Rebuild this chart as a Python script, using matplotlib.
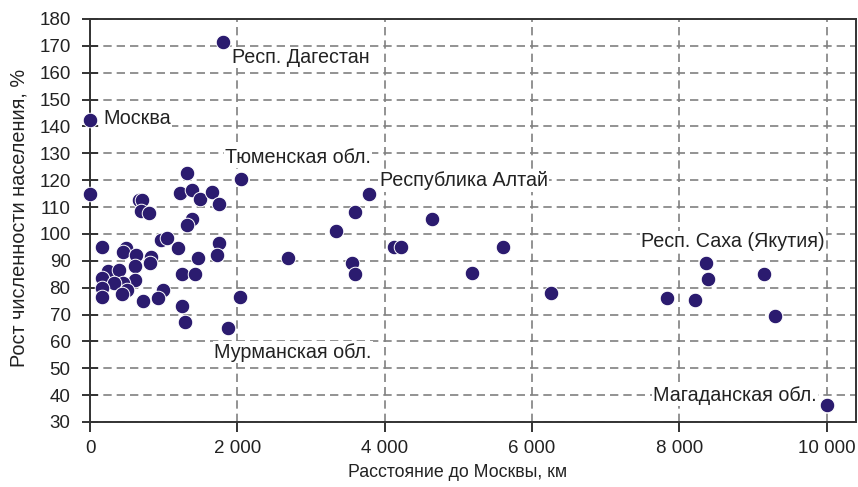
import matplotlib
matplotlib.use("Agg")
import matplotlib.pyplot as plt

plt.rcParams["font.family"] = ["Liberation Sans", "DejaVu Sans"]

# distance to Moscow (km) and population growth (%)
dist_km = [
    0, 1810, 2050, 3790, 1870, 8360, 10000,
    0, 1320, 1220, 1390, 1490, 1650, 1755, 660, 700, 690, 800,
    1380, 1320, 1750, 1730, 1470, 1244, 1430, 1244, 1290, 2040,
    965, 1050, 1195, 160, 490, 450, 630, 823, 815, 611, 240, 398,
    159, 611, 452, 330, 159, 498, 995, 159, 430, 723, 927,
    2690, 3342, 3596, 4134, 4229, 4645, 3555, 3596,
    5613, 5183, 6264, 8394, 9149, 7833, 8218, 9303,
]
growth = [
    142.5, 171.5, 120.5, 115.0, 65.0, 89.0, 36.5,
    115.0, 122.8, 115.3, 116.2, 112.9, 115.5, 111.0, 112.8, 112.5, 108.5, 107.7,
    105.7, 103.2, 96.5, 92.2, 90.9, 85.2, 85.0, 73.2, 67.1, 76.5,
    97.6, 98.6, 94.6, 95.3, 94.6, 93.4, 92.3, 91.5, 89.2, 88.2, 86.2, 86.4,
    83.5, 83.0, 81.7, 81.8, 79.8, 79.1, 79.2, 76.7, 77.7, 75.1, 76.0,
    91.2, 101.0, 108.0, 95.3, 95.3, 105.7, 89.0, 85.0,
    95.3, 85.5, 78.0, 83.4, 85.2, 76.2, 75.5, 69.5,
]

# labelled regions: text, x, y, horizontal alignment
labels = ["Москва", "Респ. Дагестан", "Тюменская обл.", "Республика Алтай",
          "Мурманская обл.", "Респ. Саха (Якутия)", "Магаданская обл."]
label_x = [180, 1927, 1832, 3935, 1682, 7486, 9864]
label_y = [143.0, 165.7, 128.5, 119.7, 56.0, 97.0, 40.0]
label_ha = ["left", "left", "left", "left", "left", "left", "right"]

xticks = [0, 2000, 4000, 6000, 8000, 10000]
yticks = list(range(30, 181, 10))

fig = plt.figure(figsize=(8.58, 4.87), dpi=100)
ax = fig.add_axes([0.1049, 0.1335, 0.8928, 0.8275])

ax.scatter(dist_km, growth, s=110, color="#2b1b6f", edgecolors="white",
           linewidths=0.7, zorder=4, clip_on=False)

for t, x, y, ha in zip(labels, label_x, label_y, label_ha):
    ax.text(x, y, t, ha=ha, va="center", fontsize=14.2, color="#222222", zorder=3,
            bbox=dict(facecolor="white", edgecolor="none", pad=1))

ax.set_xlim(0, 10400)
ax.set_ylim(30, 180)
ax.set_xticks(xticks)
ax.set_xticklabels([f"{v:,}".replace(",", " ") for v in xticks])
ax.set_yticks(yticks)

ax.grid(True, color="#808080", linestyle=(0, (5, 3)), linewidth=1.2, zorder=1)
ax.set_axisbelow(True)

for s in ax.spines.values():
    s.set_color("#333333")
    s.set_linewidth(1.4)

ax.tick_params(axis="y", direction="inout", length=12, width=1.4, color="#333333",
               labelsize=13.5, labelcolor="#222222", pad=8)
ax.tick_params(axis="x", direction="out", length=7, width=1.4, color="#333333",
               labelsize=13.5, labelcolor="#222222", pad=6)

ax.set_xlabel("Расстояние до Москвы, км", fontsize=12.8, color="#222222")
ax.set_ylabel("Рост численности населения, %", fontsize=14.3, color="#222222")
ax.xaxis.set_label_coords((458 - 90) / 766, -(464 - 422) / 403)
ax.yaxis.set_label_coords(-(90 - 28) / 766, (422 - 218) / 403)

fig.savefig("out.png", dpi=100)
